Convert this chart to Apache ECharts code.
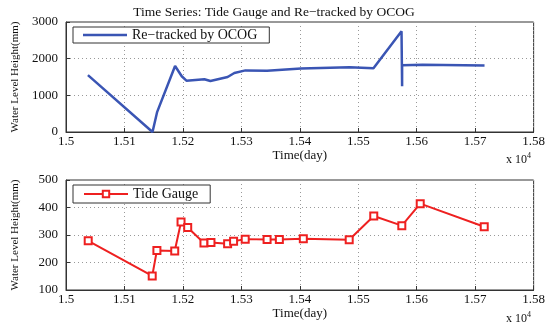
<!DOCTYPE html>
<html lang="en">
<head>
    <meta charset="UTF-8">
    <title>Time Series</title>
    <script src="https://cdn.jsdelivr.net/npm/echarts@6/dist/echarts.min.js"></script>
    <style>
        html,body{ margin:0; height:100%; background:#fff; }
    </style>
</head>
<body>
<div id="main" style="width:548px;height:326px"></div>
<script>
    // time in units of 1e4 days
    var ocogTime = [1.50375, 1.51480, 1.51560, 1.51866, 1.51980, 1.52060, 1.52367, 1.52470, 1.52765, 1.52880,
                    1.53070, 1.53440, 1.54020, 1.54850, 1.55260, 1.55740, 1.55750, 1.55750, 1.56100, 1.57160];
    var ocogLevel = [1550, 0, 550, 1800, 1520, 1400, 1440, 1390, 1500, 1610,
                     1680, 1670, 1730, 1765, 1740, 2750, 1250, 1820, 1835, 1815];

    var tideTime = [1.50380, 1.51475, 1.51555, 1.51860, 1.51968, 1.52082, 1.52360, 1.52480, 1.52765, 1.52867,
                    1.53066, 1.53440, 1.53650, 1.54060, 1.54845, 1.55265, 1.55745, 1.56060, 1.57155];
    var tideLevel = [279, 151, 244, 242, 347, 327, 271, 273, 268, 277,
                     285, 284, 284, 286, 283, 369, 334, 414, 330];

    var xTickMin = 1.5, xTickMax = 1.58, xTickStep = 0.01;

    function pairs(xs, ys) {
        var out = [];
        for (var i = 0; i < xs.length; i++) out.push([xs[i], ys[i]]);
        return out;
    }

    var serif = 'Liberation Serif';
    var myChart = echarts.init(document.getElementById('main'));

    function xAxisOpt(idx) {
        return {
            gridIndex: idx, type: 'value', min: xTickMin, max: xTickMax, interval: xTickStep,
            name: 'Time(day)', nameLocation: 'middle', nameGap: 17,
            nameTextStyle: { fontFamily: serif, fontSize: 13, color: '#111' },
            axisLine: { show: true, onZero: false, lineStyle: { color: '#333' } },
            axisTick: { inside: true, length: 4, lineStyle: { color: '#333' } },
            axisLabel: { fontFamily: serif, fontSize: 13, color: '#111', margin: 3,
                formatter: function (v) { return String(Number(v.toFixed(2))); } },
            splitLine: { show: true, lineStyle: { color: '#999', type: [1, 3], width: 1 } }
        };
    }
    function yAxisOpt(idx, mn, mx, step) {
        return {
            gridIndex: idx, type: 'value', min: mn, max: mx, interval: step,
            name: 'Water Level Height(mm)', nameLocation: 'middle', nameGap: 45,
            nameTextStyle: { fontFamily: serif, fontSize: 11, color: '#111' },
            axisLine: { show: true, lineStyle: { color: '#333' } },
            axisTick: { inside: true, length: 4, lineStyle: { color: '#333' } },
            axisLabel: { fontFamily: serif, fontSize: 13, color: '#111', margin: 8,
                formatter: function (v) { return String(v); } },
            splitLine: { show: true, lineStyle: { color: '#999', type: [1, 3], width: 1 } }
        };
    }

    var option = {
        animation: false,
        title: {
            text: 'Time Series: Tide Gauge and Re\u2212tracked by OCOG',
            left: 'center', top: 0,
            textStyle: { fontFamily: serif, fontSize: 13.5, fontWeight: 'normal', color: '#111' }
        },
        grid: [
            { left: 66, right: 9, top: 22, height: 110, show: true, borderColor: '#333', borderWidth: 1, backgroundColor: '#fff' },
            { left: 66, right: 9, top: 180, height: 110, show: true, borderColor: '#333', borderWidth: 1, backgroundColor: '#fff' }
        ],
        xAxis: [xAxisOpt(0), xAxisOpt(1)],
        yAxis: [yAxisOpt(0, 0, 3000, 1000), yAxisOpt(1, 100, 500, 100)],
        legend: [
            {
                data: [{ name: 'Re\u2212tracked by OCOG', icon: 'rect' }], left: 73, top: 27,
                borderColor: '#333', borderWidth: 1, backgroundColor: '#fff', borderRadius: 0,
                padding: [1, 12, 1, 10], itemWidth: 44, itemHeight: 2.5, itemGap: 6,
                textStyle: { fontFamily: serif, fontSize: 14, color: '#111' }
            },
            {
                data: ['Tide Gauge'], left: 73, top: 185,
                borderColor: '#333', borderWidth: 1, backgroundColor: '#fff', borderRadius: 0,
                padding: [2, 12, 2, 10], itemWidth: 44, itemHeight: 8, itemGap: 6,
                textStyle: { fontFamily: serif, fontSize: 14, color: '#111' }
            }
        ],
        graphic: [
            { type: 'text', left: 506, top: 152, style: { rich: { s: { fontSize: 8, fontFamily: serif, verticalAlign: 'top', padding: [0, 0, 7, 0] } }, text: 'x 10{s|4}', font: '12px "Liberation Serif"', fill: '#111' } },
            { type: 'text', left: 506, top: 311, style: { rich: { s: { fontSize: 8, fontFamily: serif, verticalAlign: 'top', padding: [0, 0, 7, 0] } }, text: 'x 10{s|4}', font: '12px "Liberation Serif"', fill: '#111' } }
        ],
        series: [
            {
                name: 'Re\u2212tracked by OCOG', type: 'line', xAxisIndex: 0, yAxisIndex: 0,
                data: pairs(ocogTime, ocogLevel), symbol: 'none',
                lineStyle: { color: '#3a55b4', width: 2.5 }, itemStyle: { color: '#3a55b4' }
            },
            {
                name: 'Tide Gauge', type: 'line', xAxisIndex: 1, yAxisIndex: 1,
                data: pairs(tideTime, tideLevel), symbol: 'rect', symbolSize: 7,
                lineStyle: { color: '#ee2020', width: 2 },
                itemStyle: { color: '#fff', borderColor: '#ee2020', borderWidth: 2 }
            }
        ]
    };
    myChart.setOption(option);
</script>
</body>
</html>
